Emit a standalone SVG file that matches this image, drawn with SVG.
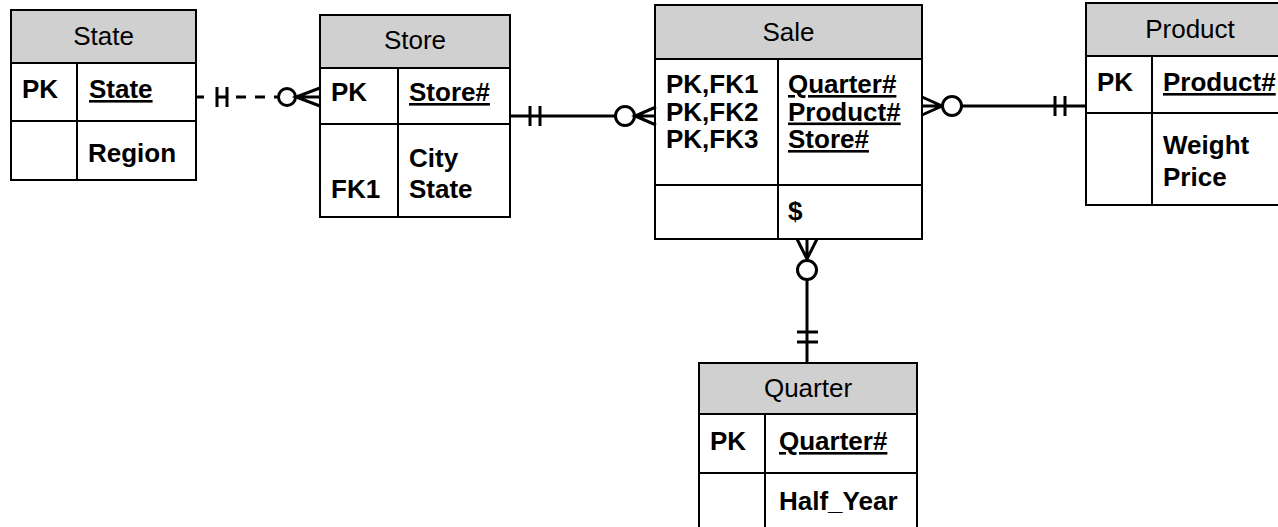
<svg xmlns="http://www.w3.org/2000/svg" width="1278" height="527" viewBox="0 0 1278 527">
<style>
.box{fill:#fff;stroke:#000;stroke-width:2}
.hdr{fill:#d0d0d0;stroke:#000;stroke-width:2}
.ln{stroke:#000;stroke-width:2;fill:none}
.t{font-family:"Liberation Sans",Arial,sans-serif;font-size:26px;fill:#000}
.title{text-anchor:middle}
.b{font-weight:bold}
.u{text-decoration:underline}
.c{stroke:#000;stroke-width:3;fill:none}
.o{stroke:#000;stroke-width:3;fill:#fff}
</style>
<rect width="1278" height="527" fill="#fff"/>
<g id="state">
<rect class="box" x="11" y="10" width="185" height="170"/>
<rect class="hdr" x="11" y="10" width="185" height="53"/>
<line class="ln" x1="77" y1="63" x2="77" y2="180"/>
<line class="ln" x1="11" y1="121" x2="196" y2="121"/>
<text class="t title" x="103.5" y="45">State</text>
<text class="t b" x="22" y="98">PK</text>
<text class="t b u" x="89" y="98">State</text>
<text class="t b" x="88" y="162">Region</text>
</g>
<g id="store">
<rect class="box" x="320" y="15" width="190" height="202"/>
<rect class="hdr" x="320" y="15" width="190" height="53"/>
<line class="ln" x1="398" y1="68" x2="398" y2="217"/>
<line class="ln" x1="320" y1="124" x2="510" y2="124"/>
<text class="t title" x="415" y="49">Store</text>
<text class="t b" x="331" y="101">PK</text>
<text class="t b u" x="409" y="101">Store#</text>
<text class="t b" x="409" y="167">City</text>
<text class="t b" x="409" y="198">State</text>
<text class="t b" x="331" y="198">FK1</text>
</g>
<g id="sale">
<rect class="box" x="655" y="5" width="267" height="234"/>
<rect class="hdr" x="655" y="5" width="267" height="54"/>
<line class="ln" x1="778" y1="59" x2="778" y2="239"/>
<line class="ln" x1="655" y1="185" x2="922" y2="185"/>
<text class="t title" x="788.5" y="41">Sale</text>
<text class="t b" x="666" y="93">PK,FK1</text>
<text class="t b" x="666" y="120.5">PK,FK2</text>
<text class="t b" x="666" y="148">PK,FK3</text>
<text class="t b u" x="788" y="93">Quarter#</text>
<text class="t b u" x="788" y="120.5">Product#</text>
<text class="t b u" x="788" y="148">Store#</text>
<text class="t b" x="788" y="220">$</text>
</g>
<g id="product">
<rect class="box" x="1086" y="3" width="208" height="202"/>
<rect class="hdr" x="1086" y="3" width="208" height="53"/>
<line class="ln" x1="1152" y1="56" x2="1152" y2="205"/>
<line class="ln" x1="1086" y1="113" x2="1294" y2="113"/>
<text class="t title" x="1190" y="38">Product</text>
<text class="t b" x="1097" y="91">PK</text>
<text class="t b u" x="1163" y="91">Product#</text>
<text class="t b" x="1163" y="154">Weight</text>
<text class="t b" x="1163" y="186">Price</text>
</g>
<g id="quarter">
<rect class="box" x="699" y="363" width="218" height="175"/>
<rect class="hdr" x="699" y="363" width="218" height="51"/>
<line class="ln" x1="765" y1="414" x2="765" y2="538"/>
<line class="ln" x1="699" y1="473" x2="917" y2="473"/>
<text class="t title" x="808" y="397">Quarter</text>
<text class="t b" x="710" y="450">PK</text>
<text class="t b u" x="779" y="450">Quarter#</text>
<text class="t b" x="779" y="510">Half_Year</text>
</g>
<g id="connectors">
<!-- State - Store (dashed, one to zero-or-many) -->
<path class="c" d="M196 97H204 M217 97H227 M236 97H246 M255 97H265 M274 97H279"/>
<path class="c" d="M217 87V107 M227 87V107"/>
<circle class="o" cx="287" cy="97" r="8.5"/>
<path class="c" d="M320 88L296 97L320 106 M296 97H320"/>
<!-- Store - Sale -->
<path class="c" d="M510 116H615"/>
<path class="c" d="M530 106V126 M540 106V126"/>
<circle class="o" cx="625" cy="116" r="9.5"/>
<path class="c" d="M656 107L635 116L656 125 M635 116H656"/>
<!-- Sale - Product -->
<path class="c" d="M922 97L942 106L922 115 M922 106H942"/>
<circle class="o" cx="952" cy="106" r="9.5"/>
<path class="c" d="M961 106H1086"/>
<path class="c" d="M1055 96V116 M1065 96V116"/>
<!-- Sale - Quarter -->
<path class="c" d="M797 239L807 259L817 239 M807 239V259"/>
<circle class="o" cx="807" cy="270" r="9.5"/>
<path class="c" d="M807 280V363"/>
<path class="c" d="M797 332H818 M797 342H818"/>
</g>
</svg>
